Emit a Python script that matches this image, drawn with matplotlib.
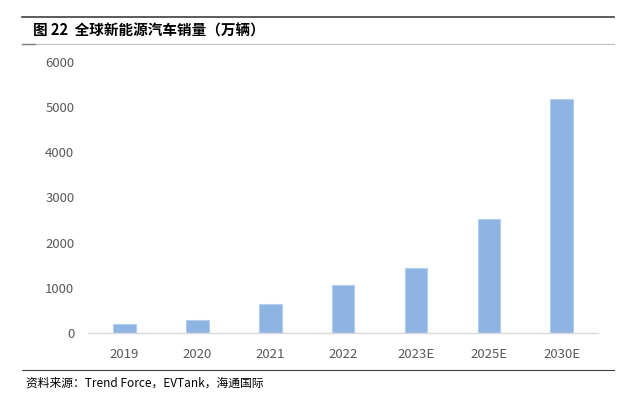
import matplotlib
matplotlib.use("Agg")
import matplotlib.pyplot as plt
from matplotlib.lines import Line2D

plt.rcParams['font.family'] = ['Noto Sans CJK SC', 'DejaVu Sans']

years = ["2019", "2020", "2021", "2022", "2023E", "2025E", "2030E"]
sales = [200, 290, 640, 1055, 1440, 2520, 5185]
yticks = [0, 1000, 2000, 3000, 4000, 5000, 6000]

title = "图 22  全球新能源汽车销量（万辆）"
source = "资料来源：Trend Force，EVTank，海通国际"

fig = plt.figure(figsize=(6.39, 3.95), dpi=100)
ax = fig.add_axes([0.138, 0.157, 0.798, 0.686])

ax.bar(range(len(years)), sales, width=0.31, color="#8EB4E3",
       edgecolor="#B4CDEE", linewidth=0.8)
ax.set_xlim(-0.5, len(years) - 0.5)
ax.set_ylim(0, 6000)
ax.set_yticks(yticks)
ax.set_xticks(range(len(years)))
ax.set_xticklabels(years)
ax.tick_params(axis="both", length=0, labelsize=9.5, colors="#595959")
ax.tick_params(axis="y", pad=10)
ax.tick_params(axis="x", pad=11)
for s in ["top", "right", "left"]:
    ax.spines[s].set_visible(False)
ax.spines["bottom"].set_color("#D9D9D9")
ax.spines["bottom"].set_linewidth(1)

# header / footer rules
fig.add_artist(Line2D([22/639, 614/639], [1-17/395, 1-17/395], color="#404040", lw=1.2))
fig.add_artist(Line2D([22/639, 614/639], [1-44/395, 1-44/395], color="#BFBFBF", lw=0.8))
fig.add_artist(Line2D([22/639, 35/639], [1-44/395, 1-44/395], color="#7F7F7F", lw=1.0))
fig.add_artist(Line2D([22/639, 614/639], [1-370/395, 1-370/395], color="#404040", lw=0.8))

fig.text(33/639, 1-31/395, title, fontsize=10.5, fontweight="bold", va="center", color="black")
fig.text(26/639, 1-383/395, source, fontsize=8.5, va="center", color="black")

fig.savefig("out.png", dpi=100)
